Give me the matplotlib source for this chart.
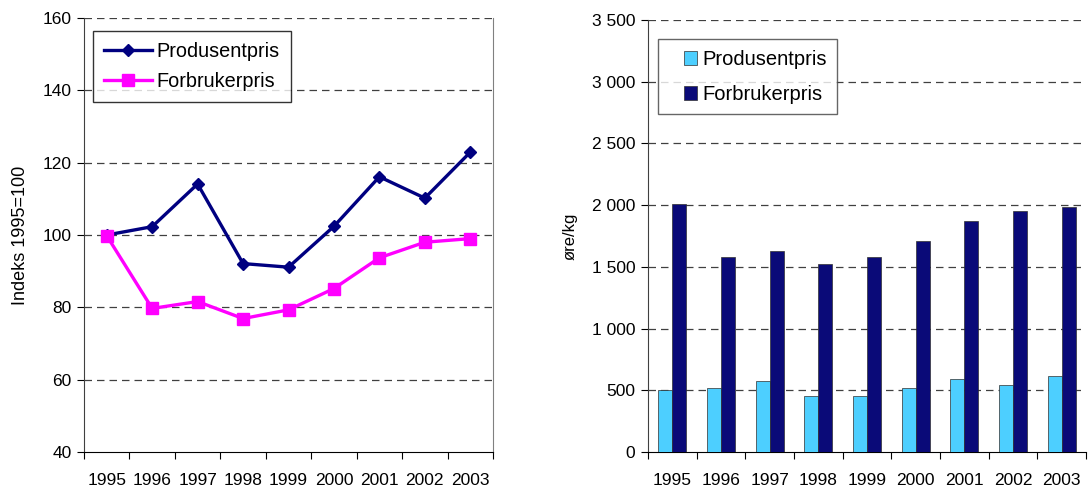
import numpy as np
import matplotlib
matplotlib.use("Agg")
import matplotlib.pyplot as plt
from matplotlib.ticker import FixedLocator, NullFormatter
from matplotlib.patches import Rectangle
from matplotlib.container import BarContainer
from matplotlib.legend_handler import HandlerPatch, update_from_first_child

plt.rcParams['font.family'] = ['Liberation Sans', 'DejaVu Sans']

years = ['1995', '1996', '1997', '1998', '1999', '2000', '2001', '2002', '2003']

# indeks 1995=100
indeks_produsent = [100, 102.3, 114.1, 92.1, 91.1, 102.4, 116.1, 110.2, 122.9]
indeks_forbruker = [99.8, 79.7, 81.6, 76.9, 79.3, 85.2, 93.7, 98.0, 99.0]

# øre/kg
pris_produsent = [500, 516, 573, 457, 457, 516, 589, 540, 613]
pris_forbruker = [2013, 1583, 1626, 1524, 1583, 1710, 1874, 1954, 1987]

left_ticks = [40, 60, 80, 100, 120, 140, 160]
right_ticks = [0, 500, 1000, 1500, 2000, 2500, 3000, 3500]
right_ticklabels = ['0', '500', '1 000', '1 500', '2 000', '2 500', '3 000', '3 500']

W, H = 1089, 490
fig = plt.figure(figsize=(W / 100, H / 100), dpi=100)

grid_kw = dict(color='#404040', linestyle=(0, (6, 4)), linewidth=0.9)
navy = '#000080'
x = np.arange(len(years))


def setup_cat_axis(ax):
    ax.set_xlim(-0.5, len(years) - 0.5)
    ax.xaxis.set_major_locator(FixedLocator(np.arange(-0.5, len(years), 1.0)))
    ax.xaxis.set_major_formatter(NullFormatter())
    ax.xaxis.set_minor_locator(FixedLocator(x))
    ax.set_xticklabels(years, minor=True)
    ax.tick_params(axis='x', which='major', length=5, direction='out', color='black')
    ax.tick_params(axis='x', which='minor', length=0, pad=15, labelsize=12.5)
    ax.tick_params(axis='y', length=5, direction='out', labelsize=12.5, pad=4)
    ax.spines['top'].set_visible(False)
    ax.spines['left'].set_color('#404040')
    ax.spines['bottom'].set_color('black')


def small_box(legend, orig_handle, xdescent, ydescent, width, height, fontsize):
    # liten firkant helt til høyre i handle-feltet, som i Excel
    w, h = 9.5, 10.0
    return Rectangle((-xdescent + width - w, -ydescent + (height - h) / 2), w, h)


# venstre: indeks
ax1 = fig.add_axes([84 / W, (H - 452) / H, (493 - 84) / W, (452 - 18) / H])
setup_cat_axis(ax1)
ax1.set_ylim(40, 160)
ax1.set_yticks(left_ticks)
for t in left_ticks[1:]:
    ax1.axhline(t, zorder=0, **grid_kw)
ax1.spines['right'].set_color('#808080')
ax1.plot(x, indeks_produsent, color=navy, lw=2.4, marker='D', ms=6,
         label='Produsentpris', zorder=3)
ax1.plot(x, indeks_forbruker, color='#ff00ff', lw=2.4, marker='s', ms=8,
         label='Forbrukerpris', zorder=3)
ax1.set_ylabel('Indeks 1995=100', fontsize=13, labelpad=10)
leg1 = ax1.legend(loc='upper left', bbox_to_anchor=(0.022, 0.969), fontsize=14.3,
                  frameon=True, fancybox=False, edgecolor='black',
                  borderpad=0.55, labelspacing=0.55, handlelength=2.4,
                  handletextpad=0.25, borderaxespad=0)
leg1.get_frame().set_linewidth(1.0)

# høyre: øre/kg
ax2 = fig.add_axes([648 / W, (H - 452) / H, (1086 - 648) / W, (452 - 20) / H])
setup_cat_axis(ax2)
ax2.spines['right'].set_visible(False)
ax2.set_ylim(0, 3500)
ax2.set_yticks(right_ticks)
ax2.set_yticklabels(right_ticklabels)
for t in right_ticks[1:]:
    ax2.axhline(t, zorder=0, **grid_kw)
bw = 0.29
ax2.bar(x - bw / 2, pris_produsent, width=bw, color='#4dcfff', edgecolor='#303030',
        linewidth=0.5, label='Produsentpris', zorder=3)
ax2.bar(x + bw / 2, pris_forbruker, width=bw, color='#0a0a78', edgecolor='#303030',
        linewidth=0.5, label='Forbrukerpris', zorder=3)
ax2.set_ylabel('øre/kg', fontsize=12, labelpad=10)
leg2 = ax2.legend(loc='upper left', bbox_to_anchor=(0.023, 0.957), fontsize=14.5,
                  frameon=True, fancybox=False, edgecolor='#404040',
                  borderpad=0.5, labelspacing=0.75, handlelength=1.45,
                  handleheight=1.0, handletextpad=0.25, borderaxespad=0,
                  handler_map={BarContainer: HandlerPatch(
                      patch_func=small_box, update_func=update_from_first_child)})
leg2.get_frame().set_linewidth(1.0)

fig.savefig('out.png', dpi=100)
